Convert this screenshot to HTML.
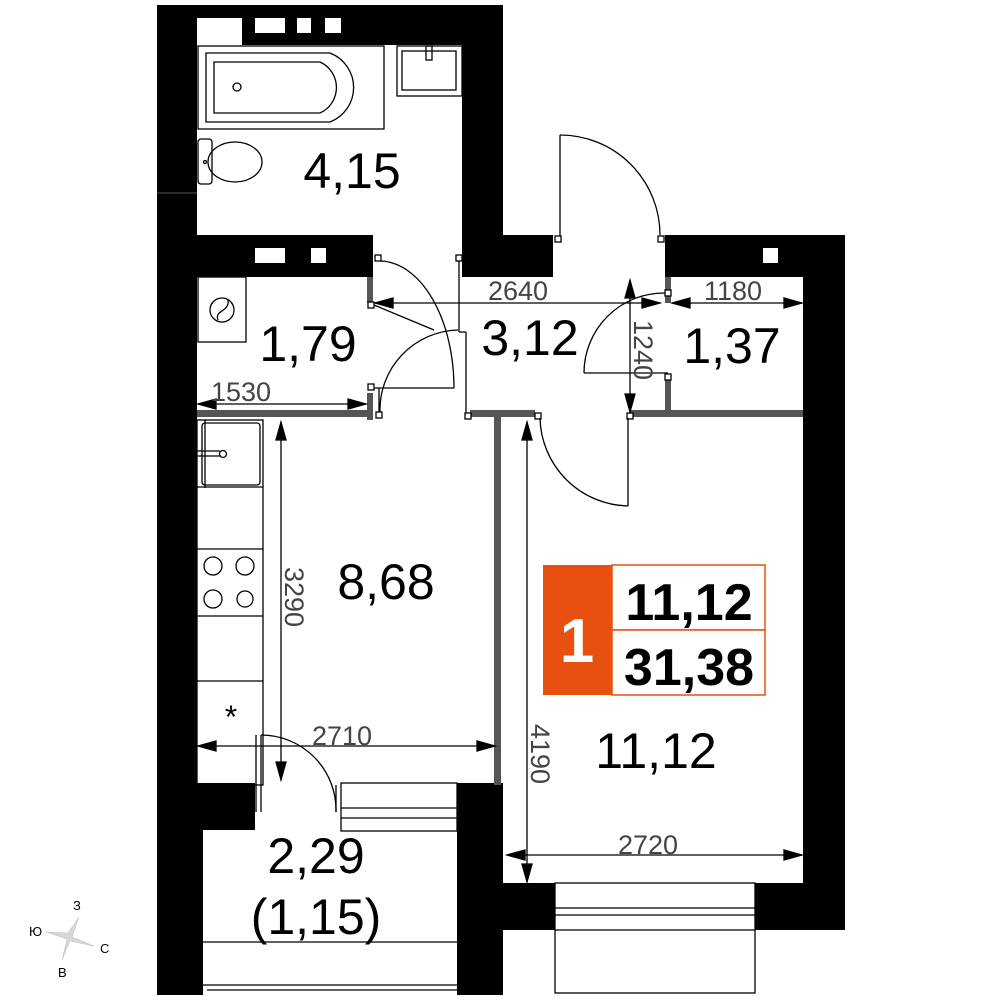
<!DOCTYPE html>
<html><head><meta charset="utf-8"><style>
html,body{margin:0;padding:0;background:#fff;}
svg{display:block;}
text{font-family:"Liberation Sans","DejaVu Sans",sans-serif;}
</style></head><body>
<svg width="1000" height="1000" viewBox="0 0 1000 1000" xmlns="http://www.w3.org/2000/svg">
<g fill="#000">
<rect x="157" y="5" width="346" height="40"/>
<rect x="157" y="5" width="40" height="230"/>
<rect x="462" y="45" width="41" height="232"/>
<rect x="462" y="235" width="91" height="42"/>
<rect x="157" y="235" width="216" height="42"/>
<rect x="157" y="235" width="40" height="550"/>
<rect x="665" y="235" width="180" height="42"/>
<rect x="803" y="235" width="42" height="650"/>
<rect x="157" y="783" width="98" height="47"/>
<rect x="157" y="783" width="46" height="212"/>
<rect x="457" y="783" width="46" height="212"/>
<rect x="457" y="883" width="98" height="47"/>
<rect x="755" y="883" width="90" height="47"/>
</g>
<g fill="#fff">
<rect x="197" y="18" width="45" height="27"/>
<rect x="255" y="18" width="30" height="15"/>
<rect x="297" y="18" width="14" height="15"/>
<rect x="325" y="18" width="16" height="15"/>
<rect x="255" y="248" width="30" height="15"/>
<rect x="311" y="248" width="15" height="15"/>
<rect x="763" y="248" width="15" height="15"/>
</g>
<line x1="157" y1="193" x2="197" y2="193" stroke="#555" stroke-width="1"/>
<g fill="#555">
<rect x="197" y="410" width="173" height="7"/>
<rect x="367" y="277" width="6" height="26"/>
<rect x="367" y="393" width="6" height="27"/>
<rect x="470" y="410" width="65" height="7"/>
<rect x="630" y="410" width="173" height="7"/>
<rect x="494" y="417" width="7" height="368"/>
<rect x="665" y="277" width="6" height="26"/>
<rect x="665" y="380" width="6" height="33"/>
</g>
<g fill="none" stroke="#000" stroke-width="1.3">
<rect x="198" y="46" width="186" height="83"/>
<path d="M206 53 H330 A37 37 0 0 1 330 122 H206 Z"/>
<path d="M214 62 H320 A28 28 0 0 1 320 113 H214 Z" />
<circle cx="237" cy="87" r="4"/>
<rect x="397" y="46" width="65" height="50"/>
<rect x="402" y="51" width="54" height="39"/>
<rect x="426" y="46" width="6" height="14"/>
<rect x="198" y="139" width="14" height="45" rx="3"/>
<ellipse cx="235" cy="162" rx="27" ry="20"/>
<circle cx="205" cy="162" r="1.5"/>
<rect x="198" y="277" width="48" height="65"/>
<circle cx="222" cy="310" r="12"/>
<path d="M218 320 C214 310 230 312 228 300"/>
<rect x="197" y="420" width="66" height="365"/>
<rect x="202" y="423" width="58" height="62" rx="3"/>
<line x1="205" y1="420" x2="205" y2="488"/>
<line x1="197" y1="487" x2="263" y2="487"/>
<line x1="197" y1="549" x2="263" y2="549"/>
<line x1="197" y1="616" x2="263" y2="616"/>
<line x1="197" y1="681" x2="263" y2="681"/>
<line x1="197" y1="451" x2="220" y2="451"/>
<line x1="197" y1="456" x2="220" y2="456"/>
<circle cx="223" cy="454" r="3.5" fill="#fff"/>
<circle cx="213" cy="566" r="9"/><circle cx="245" cy="566" r="9"/>
<circle cx="213" cy="599" r="9"/><circle cx="245" cy="599" r="8"/>
<!-- bath/wc doors -->
<rect x="375" y="255" width="6" height="6" fill="#fff"/>
<rect x="368" y="302" width="6" height="6" fill="#fff"/>
<path d="M380 261 A75 127 0 0 1 454 388"/>
<line x1="373" y1="388" x2="454" y2="388"/>
<line x1="374" y1="305" x2="434" y2="330"/>
<rect x="456" y="255" width="6" height="6" fill="#fff"/>
<line x1="459" y1="261" x2="459" y2="332"/>
<line x1="459" y1="332" x2="466" y2="332"/>
<path d="M380 413 A80 80 0 0 1 458 330"/>
<rect x="368" y="384" width="6" height="6" fill="#fff"/>
<rect x="376" y="412" width="6" height="6" fill="#fff"/>
<line x1="379" y1="388" x2="379" y2="412"/>
<rect x="465" y="413" width="6" height="6" fill="#fff"/>
<line x1="466" y1="332" x2="466" y2="413"/>
<!-- entry door -->
<line x1="560" y1="135" x2="560" y2="237"/>
<path d="M560 135 A100 100 0 0 1 660 235"/>
<rect x="555" y="236" width="6" height="6" fill="#fff"/>
<rect x="658" y="236" width="6" height="6" fill="#fff"/>
<rect x="665" y="290" width="6" height="6" fill="#fff"/>
<rect x="665" y="374" width="6" height="6" fill="#fff"/>
<path d="M665 293 A80 80 0 0 0 584 373"/>
<line x1="584" y1="373" x2="668" y2="373"/>
<rect x="535" y="413" width="6" height="6" fill="#fff"/>
<rect x="627" y="413" width="6" height="6" fill="#fff"/>
<line x1="628" y1="418" x2="628" y2="506"/>
<path d="M540 418 A90 90 0 0 0 628 506"/>
<line x1="261" y1="735" x2="261" y2="812"/>
<line x1="256" y1="735" x2="256" y2="812"/>
<path d="M261 735 A75 75 0 0 1 336 812"/>
<line x1="336" y1="812" x2="336" y2="785"/>
<rect x="341" y="783" width="116" height="48"/>
<line x1="341" y1="808" x2="457" y2="808"/>
<line x1="341" y1="818" x2="457" y2="818"/>
<rect x="555" y="883" width="200" height="110"/>
<line x1="555" y1="908" x2="755" y2="908"/>
<line x1="555" y1="915" x2="755" y2="915"/>
<line x1="555" y1="930" x2="755" y2="930"/>
<line x1="203" y1="942" x2="457" y2="942"/>
<line x1="203" y1="985" x2="457" y2="985"/>
<line x1="207" y1="990" x2="457" y2="990"/>
</g>
<g stroke="#000" stroke-width="1.3" fill="#000">
<line x1="375" y1="303" x2="660" y2="303"/>
<polygon points="375,303 393,298 393,308"/>
<polygon points="660,303 642,298 642,308"/>
<line x1="672" y1="303" x2="802" y2="303"/>
<polygon points="672,303 690,298 690,308"/>
<polygon points="802,303 784,298 784,308"/>
<line x1="630" y1="280" x2="630" y2="412"/>
<polygon points="630,280 625,298 635,298"/>
<polygon points="630,412 625,394 635,394"/>
<line x1="198" y1="404" x2="366" y2="404"/>
<polygon points="198,404 216,399 216,409"/>
<polygon points="366,404 348,399 348,409"/>
<line x1="281" y1="422" x2="281" y2="780"/>
<polygon points="281,422 276,440 286,440"/>
<polygon points="281,780 276,762 286,762"/>
<line x1="198" y1="746" x2="495" y2="746"/>
<polygon points="198,746 216,741 216,751"/>
<polygon points="495,746 477,741 477,751"/>
<line x1="527" y1="422" x2="527" y2="882"/>
<polygon points="527,422 522,440 532,440"/>
<polygon points="527,882 522,864 532,864"/>
<line x1="507" y1="855" x2="802" y2="855"/>
<polygon points="507,855 525,850 525,860"/>
<polygon points="802,855 784,850 784,860"/>
</g>
<g fill="#444" font-size="27">
<text x="488" y="300">2640</text>
<text x="704" y="300">1180</text>
<text x="211" y="401">1530</text>
<text x="312" y="745">2710</text>
<text x="618" y="854">2720</text>
<text transform="translate(634,320) rotate(90)">1240</text>
<text transform="translate(285,567) rotate(90)">3290</text>
<text transform="translate(531,724) rotate(90)">4190</text>
</g>
<g fill="#000" font-size="50" text-anchor="middle">
<text x="352" y="188">4,15</text>
<text x="308" y="361">1,79</text>
<text x="530" y="355">3,12</text>
<text x="732" y="363">1,37</text>
<text x="386" y="599">8,68</text>
<text x="656" y="768">11,12</text>
<text x="316" y="873">2,29</text>
<text x="316" y="934">(1,15)</text>
</g>
<text x="231" y="728" font-size="32" text-anchor="middle">*</text>
<rect x="543" y="565" width="69" height="130" fill="#e8500f"/>
<rect x="612" y="565" width="153" height="65" fill="#fff" stroke="#e8500f" stroke-width="1.5"/>
<rect x="612" y="630" width="153" height="65" fill="#fff" stroke="#e8500f" stroke-width="1.5"/>
<text x="577" y="662" font-size="62" font-weight="bold" fill="#fff" text-anchor="middle">1</text>
<text x="689" y="620" font-size="52" font-weight="bold" fill="#000" text-anchor="middle">11,12</text>
<text x="689" y="685" font-size="52" font-weight="bold" fill="#000" text-anchor="middle">31,38</text>
<polygon points="79,917 72,937 94,946 70,941 62,960 67,939 46,932 68,933" fill="#d8d8d8" stroke="#bbb" stroke-width="0.5"/>
<g font-size="13" fill="#000">
<text x="73" y="910">З</text>
<text x="29" y="936">Ю</text>
<text x="100" y="953">С</text>
<text x="58" y="977">В</text>
</g>
</svg>
</body></html>
